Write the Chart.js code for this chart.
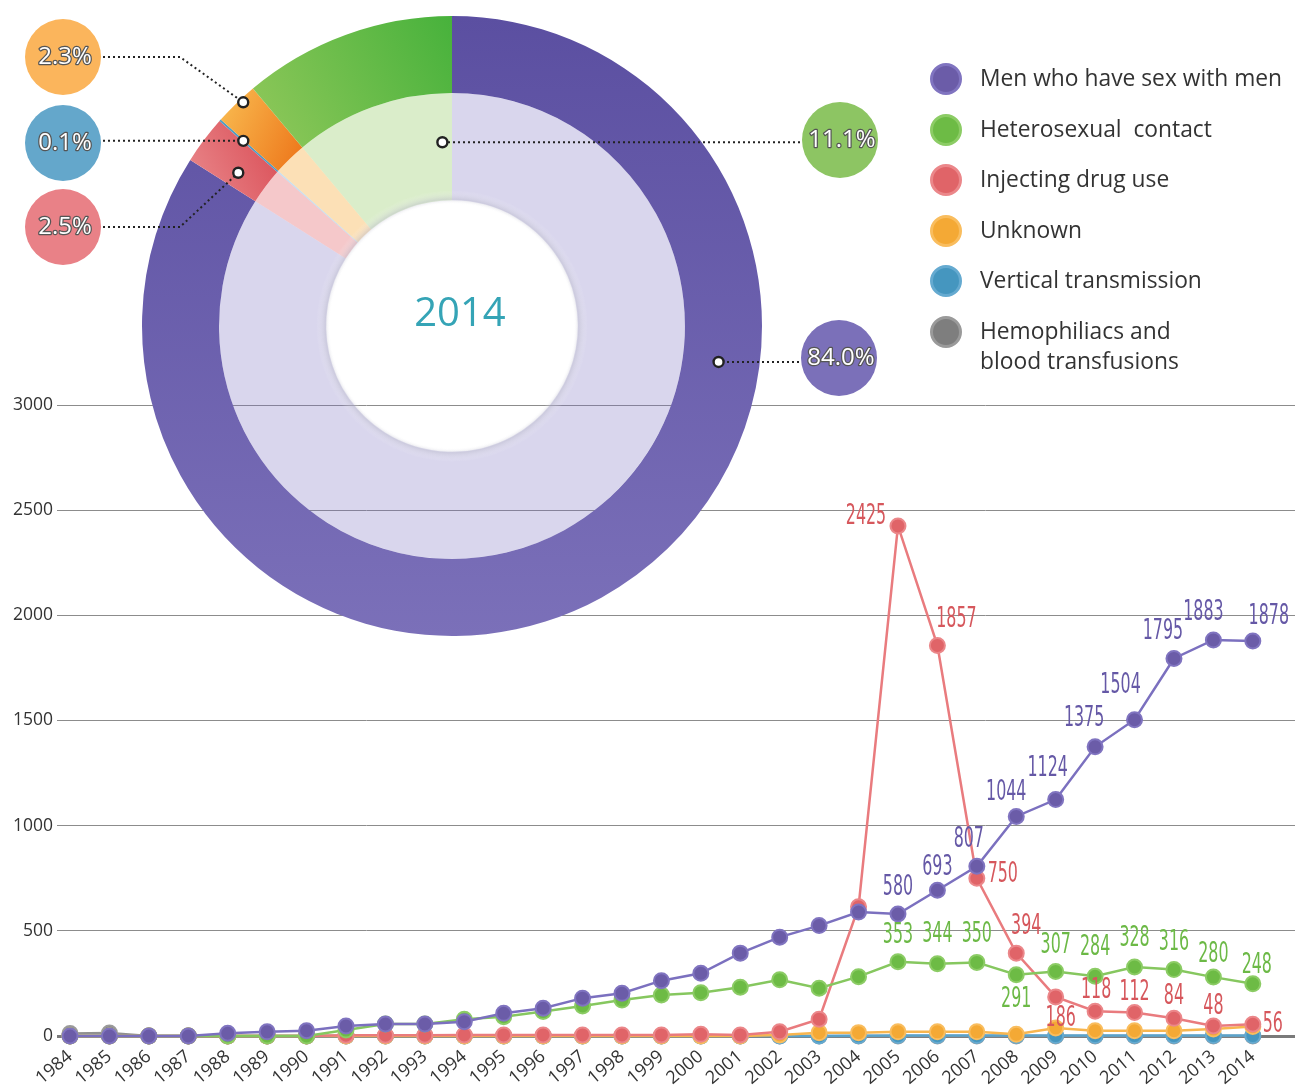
<!DOCTYPE html>
<html>
<head>
<meta charset="utf-8">
<script src="https://cdn.jsdelivr.net/npm/chart.js@4.4.1/dist/chart.umd.min.js"></script>
<style>
  html, body { margin: 0; padding: 0; background: #fff; }
  #wrap { position: relative; width: 1308px; height: 1091px; overflow: hidden; font-family: "Open Sans", sans-serif; }
  #lineBox { position: absolute; left: 0; top: 0; width: 1308px; height: 1091px; }
  #donutBox { position: absolute; left: 0; top: 0; width: 900px; height: 650px; }
  #year { position: absolute; left: 400px; top: 283px; width: 120px; text-align: center; font-size: 40px; color: #35a4b6; }
  #legend { position: absolute; left: 930px; top: 63px; margin: 0; padding: 0; list-style: none; }
  #legend li { position: relative; padding-left: 50px; font-size: 22.8px; color: #333; line-height: 30px; margin-bottom: 20.6px; white-space: pre; }
  #legend .dot { position: absolute; left: 0; top: 0; width: 26px; height: 26px; border-radius: 50%; border: 3px solid; }
</style>
</head>
<body>
<div id="wrap">
  <div id="lineBox"><canvas id="lineChart"></canvas></div>
  <div id="donutBox"><canvas id="donutChart"></canvas></div>
  <div id="year">2014</div>
  <ul id="legend"></ul>
</div>
<script>
// ── DATA ─────────────────────────────────────────────────────────────
const years = [1984,1985,1986,1987,1988,1989,1990,1991,1992,1993,1994,1995,1996,1997,1998,1999,
               2000,2001,2002,2003,2004,2005,2006,2007,2008,2009,2010,2011,2012,2013,2014];
const msm      = [0,0,0,0,13,20,25,48,57,57,68,108,132,180,203,263,298,394,470,525,589,580,693,807,1044,1124,1375,1504,1795,1883,1878];
const hetero   = [0,0,0,0,0,0,0,28,57,57,80,92,116,143,171,195,206,232,267,227,282,353,344,350,291,307,284,328,316,280,248];
const idu      = [0,0,0,0,0,0,0,4,4,4,5,5,5,5,5,5,8,5,20,80,614,2425,1857,750,394,186,118,112,84,48,56];
const unknown  = [0,0,0,0,0,0,0,0,0,0,0,0,0,0,0,0,0,0,5,16,16,20,20,20,8,38,25,25,25,33,45];
const vertical = [0,0,0,0,0,0,0,0,0,0,0,0,0,0,0,0,0,0,0,0,1,2,2,2,2,2,2,2,2,2,2];
const hemo     = [12,14,0,0,0,0,0,0,0,0,0,0,0,0,0,0,0,0,0,0,0,0,0,0,0,0,0,0,0,0,0];
const yTicks   = [0,500,1000,1500,2000,2500,3000];
const labelFrom = 2005;   // value labels are printed from this year on

// 2014 shares, clockwise from the top
const donutLabels = ['Men who have sex with men','Injecting drug use','Vertical transmission','Unknown','Heterosexual contact'];
const donutShares = [84.0, 2.5, 0.1, 2.3, 11.1];

// ── STYLE ────────────────────────────────────────────────────────────
const C = {
  msm:   { fill: '#6b5ca8', ring: '#8074c0', line: '#7b70bf', text: '#6558a6' },
  het:   { fill: '#6dbb45', ring: '#8ccc65', line: '#86c75f', text: '#6cb946' },
  idu:   { fill: '#e06468', ring: '#eb878a', line: '#e97b7e', text: '#d6575c' },
  unk:   { fill: '#f4a935', ring: '#f9bd5e', line: '#f8b64f' },
  ver:   { fill: '#4596bf', ring: '#65aad0', line: '#5aa3cb' },
  hem:   { fill: '#7e7e7e', ring: '#9a9a9a', line: '#909090' },
};
const seriesNames = ['Men who have sex with men','Heterosexual  contact','Injecting drug use','Unknown','Vertical transmission','Hemophiliacs and\nblood transfusions'];
const seriesKeys  = ['msm','het','idu','unk','ver','hem'];

// label offsets (px from the point) for 2005..2014
const labelOffsets = {
  msm: [[0,-26],[0,-23],[-8,-27],[-10,-24],[-8,-31],[-11,-28],[-14,-34],[-11,-27],[-10,-27],[16,-24]],
  het: [[0,-26],[0,-29],[0,-28],[0,25],[0,-26],[0,-29],[0,-28],[0,-27],[0,-22],[4,-18]],
  idu: [[-32,-9],[19,-26],[26,-4],[10,-26],[5,22],[1,-20],[0,-20],[0,-22],[0,-19],[20,0]],
};

// ── LEGEND ───────────────────────────────────────────────────────────
const leg = document.getElementById('legend');
leg.innerHTML = seriesNames.map((n, i) => {
  const c = C[seriesKeys[i]];
  return `<li><span class="dot" style="background:${c.fill};border-color:${c.ring}"></span>${n.replace('\n', '<br>')}</li>`;
}).join('');

// ── LINE CHART ───────────────────────────────────────────────────────
const pts = arr => arr.map((v, i) => ({ x: years[i], y: v }));
function lineSet(label, arr, key) {
  const c = C[key];
  return {
    label, data: pts(arr), key,
    borderColor: c.line, borderWidth: 2.5, tension: 0,
    pointRadius: 7.5, pointBorderWidth: 2,
    pointBackgroundColor: c.fill, pointBorderColor: c.ring,
    clip: false,
  };
}

const valueLabels = {
  id: 'valueLabels',
  afterDatasetsDraw(chart) {
    const ctx = chart.ctx;
    const start = years.indexOf(labelFrom);
    chart.data.datasets.forEach((ds, di) => {
      const offs = labelOffsets[ds.key];
      if (!offs) return;
      const meta = chart.getDatasetMeta(di);
      ctx.save();
      ctx.fillStyle = C[ds.key].text;
      ctx.font = '28px "Liberation Sans Narrow", "DejaVu Sans Condensed", sans-serif';
      ctx.textAlign = 'center';
      ctx.textBaseline = 'middle';
      offs.forEach((o, k) => {
        const p = meta.data[start + k];
        ctx.save();
        ctx.translate(p.x + o[0], p.y + o[1]);
        ctx.scale(0.63, 1);
        ctx.fillText(String(ds.data[start + k].y), 0, 0);
        ctx.restore();
      });
      ctx.restore();
    });
  }
};

new Chart(document.getElementById('lineChart'), {
  type: 'line',
  data: {
    datasets: [
      lineSet(seriesNames[0], msm, 'msm'),
      lineSet(seriesNames[1], hetero, 'het'),
      lineSet(seriesNames[2], idu, 'idu'),
      lineSet(seriesNames[3], unknown, 'unk'),
      lineSet(seriesNames[4], vertical, 'ver'),
      lineSet(seriesNames[5], hemo, 'hem'),
    ]
  },
  options: {
    responsive: true, maintainAspectRatio: false, animation: false, events: [],
    layout: { padding: { top: 405, right: 13, left: 0, bottom: 0 } },
    plugins: { legend: { display: false }, tooltip: { enabled: false } },
    scales: {
      x: {
        type: 'linear', min: 1983.67, max: 2015.07,
        afterBuildTicks: s => { s.ticks = years.map(v => ({ value: v })); },
        afterFit: s => { s.height = 55; },
        grid: { display: false }, border: { display: false },
        ticks: { color: '#333', font: { family: 'Open Sans', size: 18 }, minRotation: 40, maxRotation: 40, padding: 2, autoSkip: false, callback: v => String(v) }
      },
      y: {
        min: 0, max: 3000,
        afterBuildTicks: s => { s.ticks = yTicks.map(v => ({ value: v })); },
        afterFit: s => { s.width = 57; },
        border: { display: false },
        grid: { color: ctx => ctx.tick && ctx.tick.value === 0 ? '#7a7a7a' : '#8c8c8c', lineWidth: ctx => ctx.tick && ctx.tick.value === 0 ? 3 : 1, drawTicks: false },
        ticks: { color: '#333', font: { family: 'Open Sans', size: 17.5 }, padding: 4, callback: v => String(v) }
      }
    }
  },
  plugins: [valueLabels]
});

// ── DONUT ────────────────────────────────────────────────────────────
const outerColors = ['#6a5eae', '#e06066', '#4e9cc4', '#f39a30', '#6cbb48'];
const innerColors = ['rgba(118,108,190,0.28)', 'rgba(230,110,115,0.38)', 'rgba(80,150,200,0.3)', 'rgba(248,180,80,0.42)', 'rgba(140,200,90,0.32)'];

function outerFill(context) {
  const chart = context.chart, a = chart.chartArea;
  if (!a) return outerColors[context.dataIndex];
  const ctx = chart.ctx;
  let g;
  switch (context.dataIndex) {
    case 0: g = ctx.createLinearGradient(0, a.top, 0, a.bottom); g.addColorStop(0, '#5b4fa1'); g.addColorStop(1, '#7b70b9'); return g;
    case 1: g = ctx.createLinearGradient(190, 200, 290, 150); g.addColorStop(0, '#ea8a8d'); g.addColorStop(1, '#d94c55'); return g;
    case 3: g = ctx.createLinearGradient(215, 110, 300, 150); g.addColorStop(0, '#f9bb50'); g.addColorStop(1, '#ee7b1e'); return g;
    case 4: g = ctx.createLinearGradient(450, 20, 250, 130); g.addColorStop(0, '#48b23c'); g.addColorStop(1, '#90c85a'); return g;
    default: return outerColors[context.dataIndex];
  }
}

// callout bubbles: slice order, bubble centre, elbow x, marker position inside the slice
const callouts = [
  { bx: 839, by: 358, elbow: null, frac: 0.323, r: 269, color: '#7b70b9' },
  { bx: 63,  by: 227, elbow: 180,  frac: 0.36,  r: 263, color: '#e98187' },
  { bx: 63,  by: 143, elbow: null, frac: 0.5,   r: 279, color: '#64a7cb' },
  { bx: 63,  by: 57,  elbow: 180,  frac: 0.63,  r: 306, color: '#fbb55c' },
  { bx: 840, by: 140, elbow: null, frac: 0.925, r: 184, color: '#8dc563' },
];

const donutExtras = {
  id: 'donutExtras',
  afterDatasetsDraw(chart) {
    const ctx = chart.ctx;
    const arcs = chart.getDatasetMeta(0).data;
    const inner = chart.getDatasetMeta(1).data[0];
    const cx = inner.x, cy = inner.y, r0 = inner.innerRadius;

    // soft edge round the hole
    ctx.save();
    const rg = ctx.createRadialGradient(cx, cy, r0 - 4, cx, cy, r0 + 10);
    rg.addColorStop(0, 'rgba(255,255,255,0)');
    rg.addColorStop(0.35, 'rgba(190,190,205,0.45)');
    rg.addColorStop(1, 'rgba(255,255,255,0)');
    ctx.fillStyle = rg;
    ctx.beginPath(); ctx.arc(cx, cy, r0 + 10, 0, Math.PI * 2); ctx.arc(cx, cy, r0 - 4, 0, Math.PI * 2, true); ctx.fill();
    ctx.restore();

    callouts.forEach((c, i) => {
      const a = arcs[i];
      const ang = a.startAngle + c.frac * (a.endAngle - a.startAngle);
      const mx = cx + c.r * Math.cos(ang), my = cy + c.r * Math.sin(ang);
      const ly = c.elbow === null ? my : c.by;
      const sx = c.bx < mx ? c.bx + 40 : c.bx - 40;

      ctx.save();
      ctx.strokeStyle = '#222'; ctx.lineWidth = 2; ctx.setLineDash([2, 3]);
      ctx.beginPath(); ctx.moveTo(sx, ly);
      if (c.elbow !== null) ctx.lineTo(c.elbow, ly);
      ctx.lineTo(mx, my);
      ctx.stroke();
      ctx.setLineDash([]);
      ctx.fillStyle = '#fff'; ctx.lineWidth = 2.4;
      ctx.beginPath(); ctx.arc(mx, my, 5, 0, Math.PI * 2); ctx.fill(); ctx.stroke();

      ctx.fillStyle = c.color;
      ctx.beginPath(); ctx.arc(c.bx, c.by, 38, 0, Math.PI * 2); ctx.fill();
      ctx.font = '24px "Open Sans", sans-serif';
      ctx.textAlign = 'center'; ctx.textBaseline = 'middle';
      const t = donutShares[i].toFixed(1) + '%';
      ctx.lineWidth = 2.5; ctx.strokeStyle = '#555'; ctx.lineJoin = 'round';
      ctx.strokeText(t, c.bx + 2, c.by);
      ctx.fillStyle = '#fff';
      ctx.fillText(t, c.bx + 2, c.by);
      ctx.restore();
    });
  }
};

new Chart(document.getElementById('donutChart'), {
  type: 'doughnut',
  data: {
    labels: donutLabels,
    datasets: [
      { data: donutShares, backgroundColor: outerFill, borderWidth: 0, weight: 77 },
      { data: donutShares, backgroundColor: innerColors, borderWidth: 0, weight: 107 },
    ]
  },
  options: {
    responsive: true, maintainAspectRatio: false, animation: false, events: [],
    cutout: '40.6%',
    layout: { padding: { left: 142, right: 138, top: 16, bottom: 14 } },
    plugins: { legend: { display: false }, tooltip: { enabled: false } }
  },
  plugins: [donutExtras]
});
</script>
</body>
</html>
